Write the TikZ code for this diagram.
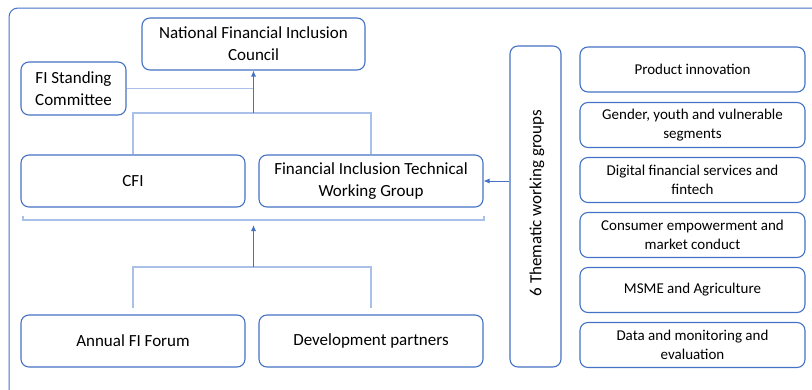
\documentclass[tikz,border=0pt]{standalone}
\usepackage{fontspec}
\setmainfont{Carlito}
\usetikzlibrary{arrows.meta}
\definecolor{boxblue}{HTML}{4472C4}
\definecolor{linkblue}{HTML}{A9C0E8}
\begin{document}
\begin{tikzpicture}[x=1pt,y=-1pt,
  box/.style={draw=boxblue,line width=1.1pt,rounded corners=8pt,align=center,
    inner sep=2pt,font=\fontsize{17}{22}\selectfont},
  wgbox/.style={box,minimum width=225pt,minimum height=45pt,
    font=\fontsize{15}{19}\selectfont},
  link/.style={draw=linkblue,line width=1.1pt},
  uparrow/.style={draw=boxblue,line width=0.9pt,-{Latex[length=6pt,width=5pt]}}]
\useasboundingbox (0,0) rectangle (812,389);
% open frame: only the top and left edges show
\draw[boxblue,line width=1pt,rounded corners=9pt] (9,392) -- (9,8) -- (815,8);

% governance boxes
\node[box,minimum width=223pt,minimum height=52pt] (nfic) at (253.5,44)
  {National Financial Inclusion\\Council};
\node[box,minimum width=105pt,minimum height=53pt] (fisc) at (73.5,88.5)
  {FI Standing\\Committee};
\node[box,minimum width=224pt,minimum height=52pt] (cfi) at (133,181) {CFI};
\node[box,minimum width=224pt,minimum height=52pt] (twg) at (371,181)
  {Financial Inclusion Technical\\Working Group};
\node[box,minimum width=224pt,minimum height=52pt] (forum) at (133,341)
  {Annual FI Forum};
\node[box,minimum width=224pt,minimum height=52pt] (partners) at (371,341)
  {Development partners};

% thematic working groups
\node[box,minimum width=51pt,minimum height=321pt] (themes) at (535.5,206.5) {};
\node[rotate=90,font=\fontsize{17}{22}\selectfont] (themeslabel) at (537,203)
  {6 Thematic working groups};
\node[wgbox] (g1) at (692.5,69.5) {Product innovation};
\node[wgbox] (g2) at (692.5,125) {Gender, youth and vulnerable\\segments};
\node[wgbox] (g3) at (692.5,180) {Digital financial services and\\fintech};
\node[wgbox] (g4) at (692.5,235) {Consumer empowerment and\\market conduct};
\node[wgbox] (g5) at (692.5,290) {MSME and Agriculture};
\node[wgbox] (g6) at (692.5,345) {Data and monitoring and\\evaluation};

% upper hub into the council
\coordinate (tophub) at (253.5,113);
\draw[link] (cfi.north) |- (tophub) -| (twg.north);
\draw[link] (fisc.east) -- (fisc.east -| tophub);
\draw[uparrow] (tophub) -- (nfic.south);

% bracket under CFI and technical working group, ends turned up
\coordinate (brl) at (23,220);
\coordinate (brr) at (484,220);
\draw[link] ([yshift=4pt]brl) -- (brl) -- (brr) -- ([yshift=4pt]brr);

% lower hub into the bracket
\coordinate (lowhub) at (253.5,267);
\draw[link] ([yshift=6pt]forum.north) |- (lowhub) -| ([yshift=6pt]partners.north);
\coordinate (brmid) at (253.5,225);
\draw[uparrow] (lowhub) -- (brmid);

% thematic groups feed the technical working group
\draw[uparrow,line width=0.7pt] (themes.west |- twg.east) -- (twg.east);
\end{tikzpicture}
\end{document}
